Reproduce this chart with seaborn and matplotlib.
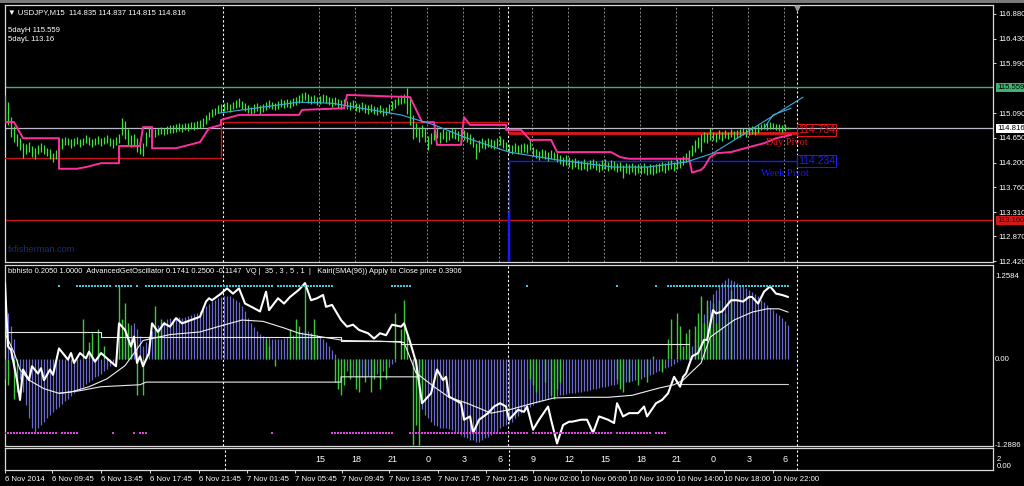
import numpy as np
import pandas as pd
import seaborn as sns
import matplotlib
matplotlib.use("Agg")
import matplotlib.pyplot as plt
import matplotlib.transforms as mtrans
from matplotlib.patches import Rectangle

sns.set_style("dark", {"axes.facecolor": "black", "figure.facecolor": "black"})
plt.rcParams["font.family"] = ["Liberation Sans", "DejaVu Sans"]

# ---------------- price bars (M15), one value per bar ----------------
high = [115.42, 115.30, 115.02, 114.86, 114.72, 114.64, 114.55, 114.53, 114.58, 114.50,
        114.46, 114.52, 114.56, 114.52, 114.47, 114.44, 114.38, 114.43, 114.52, 114.64,
        114.67, 114.65, 114.62, 114.64, 114.67, 114.63, 114.65, 114.69, 114.66, 114.63,
        114.65, 114.68, 114.64, 114.67, 114.70, 114.65, 114.62, 114.66, 114.72, 115.00,
        114.95, 114.80, 114.70, 114.72, 114.64, 114.58, 114.55, 114.75, 114.84, 114.86,
        114.81, 114.83, 114.85, 114.83, 114.86, 114.88, 114.87, 114.89, 114.91, 114.89,
        114.92, 114.91, 114.94, 114.93, 114.95, 114.97, 115.00, 115.06, 115.12, 115.16,
        115.19, 115.23, 115.25, 115.28, 115.30, 115.26, 115.30, 115.33, 115.36, 115.31,
        115.28, 115.24, 115.21, 115.25, 115.27, 115.23, 115.26, 115.29, 115.32, 115.30,
        115.28, 115.31, 115.34, 115.32, 115.35, 115.33, 115.36, 115.38, 115.42, 115.45,
        115.48, 115.43, 115.40, 115.42, 115.38, 115.40, 115.43, 115.41, 115.39, 115.36,
        115.38, 115.34, 115.32, 115.35, 115.31, 115.29, 115.32, 115.28, 115.26, 115.29,
        115.25, 115.23, 115.26, 115.22, 115.20, 115.23, 115.19, 115.21, 115.26, 115.31,
        115.35, 115.38, 115.41, 115.43, 115.55, 115.38, 115.05, 114.92, 114.85, 114.88,
        114.82, 114.68, 114.74, 114.80, 114.84, 114.76, 114.81, 114.77, 114.79, 114.83,
        114.80, 114.77, 114.81, 114.78, 114.75, 114.72, 114.66, 114.56, 114.60, 114.64,
        114.60, 114.64, 114.62, 114.60, 114.65, 114.68, 114.63, 114.58, 114.54, 114.52,
        114.55, 114.51, 114.53, 114.56, 114.54, 114.62, 114.48, 114.44, 114.41, 114.44,
        114.42, 114.39, 114.42, 114.40, 114.38, 114.34, 114.31, 114.33, 114.30, 114.26,
        114.29, 114.25, 114.23, 114.26, 114.22, 114.25, 114.27, 114.23, 114.20, 114.24,
        114.26, 114.22, 114.25, 114.23, 114.20, 114.22, 114.16, 114.19, 114.17, 114.20,
        114.15, 114.18, 114.16, 114.19, 114.14, 114.17, 114.15, 114.18, 114.20, 114.22,
        114.19, 114.23, 114.25, 114.22, 114.26, 114.28, 114.32, 114.38, 114.43, 114.52,
        114.60, 114.66, 114.72, 114.75, 114.73, 114.82, 114.76, 114.74, 114.78, 114.75,
        114.78, 114.76, 114.80, 114.77, 114.79, 114.81, 114.83, 114.81, 114.84, 114.86,
        114.84, 114.87, 114.90, 114.92, 114.91, 114.93, 114.92, 114.90, 114.89, 114.88,
        114.89, 114.84]
low = [114.90, 114.88, 114.66, 114.58, 114.50, 114.42, 114.28, 114.36, 114.40, 114.30,
       114.27, 114.35, 114.40, 114.36, 114.32, 114.27, 114.22, 114.26, 114.33, 114.45,
       114.52, 114.51, 114.47, 114.50, 114.53, 114.49, 114.51, 114.55, 114.52, 114.48,
       114.51, 114.54, 114.50, 114.53, 114.56, 114.50, 114.47, 114.51, 114.55, 114.70,
       114.62, 114.52, 114.48, 114.52, 114.40, 114.36, 114.32, 114.50, 114.66, 114.71,
       114.67, 114.69, 114.71, 114.69, 114.72, 114.74, 114.73, 114.75, 114.77, 114.75,
       114.78, 114.77, 114.80, 114.79, 114.81, 114.83, 114.85, 114.90, 114.97, 115.02,
       115.05, 115.09, 115.11, 115.13, 115.15, 115.11, 115.16, 115.19, 115.21, 115.16,
       115.13, 115.10, 115.06, 115.10, 115.13, 115.08, 115.12, 115.15, 115.18, 115.16,
       115.14, 115.17, 115.20, 115.18, 115.21, 115.19, 115.22, 115.24, 115.27, 115.30,
       115.32, 115.28, 115.25, 115.28, 115.23, 115.26, 115.29, 115.27, 115.24, 115.21,
       115.24, 115.19, 115.17, 115.21, 115.16, 115.14, 115.18, 115.13, 115.11, 115.15,
       115.10, 115.08, 115.12, 115.07, 115.05, 115.09, 115.04, 115.06, 115.10, 115.15,
       115.19, 115.23, 115.25, 115.27, 115.08, 114.88, 114.62, 114.66, 114.58, 114.66,
       114.58, 114.43, 114.54, 114.60, 114.65, 114.56, 114.62, 114.58, 114.60, 114.64,
       114.62, 114.59, 114.63, 114.60, 114.57, 114.54, 114.48, 114.27, 114.40, 114.46,
       114.44, 114.48, 114.46, 114.44, 114.49, 114.52, 114.47, 114.42, 114.38, 114.36,
       114.39, 114.35, 114.37, 114.40, 114.38, 114.42, 114.32, 114.28, 114.25, 114.28,
       114.26, 114.23, 114.26, 114.24, 114.22, 114.17, 114.14, 114.16, 114.13, 114.09,
       114.12, 114.08, 114.06, 114.09, 114.05, 114.08, 114.10, 114.06, 114.03, 114.07,
       114.09, 114.05, 114.08, 114.06, 114.03, 114.05, 113.92, 114.02, 114.00, 114.03,
       113.98, 114.01, 113.99, 114.02, 113.97, 114.00, 113.98, 114.01, 114.03, 114.05,
       114.02, 114.06, 114.08, 114.05, 114.09, 114.11, 114.15, 114.21, 114.25, 114.32,
       114.40, 114.46, 114.40, 114.57, 114.55, 114.60, 114.60, 114.58, 114.62, 114.59,
       114.64, 114.62, 114.66, 114.63, 114.65, 114.67, 114.69, 114.67, 114.70, 114.72,
       114.70, 114.73, 114.78, 114.80, 114.79, 114.81, 114.80, 114.78, 114.77, 114.76,
       114.77, 114.80]

# magenta step line (bar, price)
mag_x = [0, 3, 6, 18, 18, 24, 27, 32, 38, 38, 45, 46, 49, 49, 57, 65, 68, 72, 72, 78,
         98, 99, 113, 114, 135, 139, 143, 144, 152, 153, 155, 167, 167, 172, 175, 182, 184, 202, 205, 208,
         228, 229, 232, 233, 235, 237, 242, 248, 253, 257, 262]
mag_y = [114.93, 114.93, 114.64, 114.64, 114.09, 114.09, 114.12, 114.19, 114.19, 114.50,
         114.50, 114.84, 114.84, 114.46, 114.46, 114.57, 114.82, 114.88, 114.97, 115.06,
         115.06, 115.15, 115.18, 115.42, 115.38, 114.93, 114.93, 114.52, 114.52, 115.02,
         114.88, 114.88, 114.79, 114.79, 114.61, 114.61, 114.39, 114.39, 114.30, 114.27,
         114.27, 114.02, 114.07, 114.12, 114.30, 114.37, 114.39, 114.48, 114.55, 114.64,
         114.70]

# cyan regression line
cyan_x = [71, 98, 109, 132, 143, 154, 168, 184, 203, 214, 227, 236, 266]
cyan_y = [115.09, 115.29, 115.27, 115.06, 114.88, 114.64, 114.39, 114.25, 114.12, 114.12, 114.21, 114.37, 115.38]
cyan2_x = [253, 256, 262]
cyan2_y = [114.82, 115.06, 115.18]

# daily pivots (bar, price) and weekly pivot
pivot_x = [0, 72, 72, 168]
pivot_y = [114.29, 114.29, 114.93, 114.93]
day_pivot = 114.734
week_pivot = 114.234
pivot_start = 168
pivot_end = 264
five_day_high = 115.559
five_day_low = 113.16
last_price = 114.816

# ---------------- oscillator window ----------------
blue_hist = [0.8, 0.7, 0.5, 0.3, 0.0, -0.3, -0.5, -0.7, -0.9, -1.05,
             -1.1, -1.05, -1.0, -0.95, -0.9, -0.85, -0.8, -0.75, -0.72, -0.68,
             -0.64, -0.6, -0.56, -0.52, -0.48, -0.45, -0.42, -0.38, -0.35, -0.32,
             -0.28, -0.25, -0.22, -0.18, -0.15, -0.1, -0.06, -0.03, 0.05, 0.15,
             0.3, 0.45, 0.52, 0.55, 0.45, 0.35, 0.2, 0.25, 0.35, 0.42,
             0.5, 0.52, 0.55, 0.58, 0.6, 0.62, 0.6, 0.62, 0.64, 0.62,
             0.63, 0.65, 0.66, 0.68, 0.7, 0.72, 0.76, 0.8, 0.84, 0.88,
             0.9, 0.92, 0.94, 0.95, 0.96, 0.95, 0.93, 0.9, 0.86, 0.8,
             0.72, 0.62, 0.55, 0.48, 0.42, 0.38, 0.35, 0.33, 0.32, 0.3,
             0.3, 0.3, 0.31, 0.32, 0.33, 0.34, 0.36, 0.38, 0.4, 0.41,
             0.42, 0.42, 0.4, 0.38, 0.36, 0.33, 0.3, 0.25, 0.2, 0.14,
             0.08, 0.02, -0.05, -0.12, -0.18, -0.22, -0.25, -0.27, -0.28, -0.28,
             -0.27, -0.25, -0.24, -0.23, -0.22, -0.2, -0.18, -0.15, -0.12, -0.08,
             -0.04, 0.0, 0.02, 0.0, 0.02, -0.02, -0.15, -0.4, -0.6, -0.75,
             -0.85, -0.9, -0.95, -1.0, -1.02, -1.05, -1.05, -1.05, -1.06, -1.08,
             -1.1, -1.12, -1.15, -1.18, -1.2, -1.22, -1.22, -1.25, -1.25, -1.22,
             -1.2, -1.18, -1.15, -1.12, -1.1, -1.05, -1.02, -1.0, -0.98, -0.95,
             -0.9, -0.86, -0.82, -0.78, -0.75, -0.72, -0.7, -0.67, -0.65, -0.63,
             -0.61, -0.6, -0.58, -0.57, -0.56, -0.55, -0.54, -0.53, -0.52, -0.52,
             -0.51, -0.5, -0.5, -0.49, -0.48, -0.47, -0.46, -0.45, -0.44, -0.43,
             -0.42, -0.41, -0.4, -0.39, -0.38, -0.37, -0.36, -0.35, -0.34, -0.33,
             -0.32, -0.31, -0.3, -0.28, -0.26, -0.24, -0.22, -0.2, -0.18, -0.16,
             -0.14, -0.12, -0.1, -0.08, -0.05, -0.02, 0.02, 0.06, 0.12, 0.2,
             0.3, 0.42, 0.55, 0.68, 0.8, 0.9, 0.98, 1.05, 1.1, 1.15,
             1.2, 1.22, 1.2, 1.18, 1.15, 1.12, 1.1, 1.08, 1.05, 1.02,
             0.98, 0.95, 0.9, 0.86, 0.82, 0.78, 0.74, 0.7, 0.66, 0.62,
             0.58, 0.52]

green_idx = [0, 1, 3, 4, 26, 28, 29, 31, 33, 38, 39, 40, 41, 42, 44, 46, 50, 51, 52,
             87, 88, 90, 95, 97, 98, 100, 102, 103, 104,
             110, 111, 112, 113, 115, 117, 118, 120, 122, 123, 125, 127,
             130, 132, 133, 134, 136, 137, 138, 139,
             175, 176, 177, 180, 182, 183, 184, 185,
             204, 205, 206, 208, 211, 214, 216, 219,
             221, 222, 224, 225, 226, 227, 228,
             230, 231, 232, 233, 234, 235, 236, 237, 238, 240, 242]
green_val = [-0.3, -0.4, -0.6, -0.5, 0.6, 0.25, 0.4, 0.45, 0.2, 1.1, 0.6, 0.85, 0.55, 0.3, -0.55, -0.55, 0.8, 0.45, 0.6,
             0.3, 0.2, -0.1, 0.45, 0.6, 0.5, 1.1, 0.4, 0.6, 0.3,
             -0.35, -0.45, -0.55, -0.4, -0.3, -0.45, -0.5, -0.35, -0.5, -0.3, -0.45, -0.3,
             0.7, 0.45, 0.9, 0.35, -1.3, -1.0, -1.3, -0.6,
             -0.3, -0.4, -0.5, -0.35, -0.55, -0.6, -0.45, -0.35,
             -0.3, -0.45, -0.5, -0.35, -0.4, -0.35, 0.05, -0.2,
             0.3, 0.6, 0.7, 0.5, 0.2, 0.4, 0.45,
             0.5, 0.7, 0.95, 0.55, 0.9, 0.6, 0.85, 0.55, 0.9, 0.7, 1.05]

osc_x = [0, 1, 2, 4, 5, 6, 8, 9, 11, 12, 13, 15, 16, 18, 21, 22, 23, 25, 27, 28,
         30, 32, 34, 37, 38, 40, 42, 43, 44, 45, 46, 48, 49, 51, 53, 55, 57, 59, 62, 65,
         67, 68, 69, 72, 74, 76, 78, 80, 83, 85, 87, 88, 91, 93, 95, 98, 100, 102, 104, 106,
         107, 109, 112, 114, 116, 118, 121, 123, 125, 127, 129, 132, 133, 135, 137, 139, 142, 144, 146, 147,
         148, 150, 152, 153, 155, 156, 158, 161, 163, 165, 167, 168, 171, 173, 174, 176, 178, 181, 182, 184,
         186, 188, 189, 192, 194, 196, 198, 201, 203, 204, 206, 208, 211, 213, 214, 217, 219, 221, 223, 225,
         226, 227, 229, 231, 233, 234, 236, 237, 239, 242, 244, 246, 248, 249, 251, 253, 255, 257, 259, 261]
osc_y = [1.15, 0.19, 0.14, -0.32, -0.62, -0.16, -0.32, -0.11, -0.22, -0.14,
         -0.32, -0.16, -0.24, 0.16, -0.01, 0.09, -0.06, 0.09, 0.01, 0.11,
         -0.04, 0.09, 0.01, -0.11, 0.54, 0.44, 0.19, 0.34, -0.06, 0.04,
         -0.11, 0.09, 0.54, 0.41, 0.54, 0.49, 0.62, 0.54, 0.59, 0.64,
         0.87, 0.92, 0.89, 0.99, 1.07, 0.99, 1.07, 0.84, 0.77, 0.72,
         1.02, 0.74, 0.92, 0.84, 0.94, 1.05, 1.15, 0.89, 0.92, 0.97,
         0.79, 0.82, 0.59, 0.49, 0.52, 0.44, 0.39, 0.31, 0.39, 0.36,
         0.52, 0.49, 0.54, 0.26, -0.05, -0.67, -0.52, -0.16, -0.32, -0.27,
         -0.57, -0.62, -0.67, -0.92, -0.87, -1.12, -0.92, -0.82, -0.72, -0.67,
         -0.72, -0.92, -0.77, -0.8, -0.72, -1.07, -0.92, -0.72, -0.92, -1.28,
         -1.0, -0.95, -0.95, -0.92, -0.92, -1.12, -0.87, -0.92, -0.97, -0.67,
         -0.87, -0.82, -0.82, -0.72, -0.87, -0.67, -0.62, -0.52, -0.27, -0.42,
         -0.27, -0.22, 0.04, 0.09, 0.29, 0.29, 0.74, 0.69, 0.72, 0.89,
         0.89, 0.87, 0.94, 0.94, 0.84, 1.02, 1.1, 0.99, 0.97, 0.94]

sig_x = [0, 3, 5, 8, 13, 18, 22, 28, 34, 40, 44, 46, 55, 65, 71, 79, 86, 93, 98, 109,
         113, 125, 133, 137, 143, 148, 154, 162, 168, 176, 183, 192, 201, 209, 218, 223, 226, 232, 235, 243,
         249, 254, 258, 261]
sig_y = [0.39, 0.1, -0.16, -0.32, -0.45, -0.52, -0.5, -0.42, -0.3, -0.1,
         0.15, 0.28, 0.37, 0.41, 0.49, 0.59, 0.57, 0.47, 0.39, 0.31,
         0.28, 0.27, 0.25, -0.21, -0.42, -0.58, -0.67, -0.82, -0.77, -0.67,
         -0.59, -0.58, -0.58, -0.55, -0.44, -0.39, -0.32, -0.06, 0.33, 0.59,
         0.71, 0.76, 0.76, 0.71]

upper_x = [0, 32, 32, 112, 112, 132, 132, 228]
upper_y = [0.41, 0.41, 0.34, 0.34, 0.27, 0.27, 0.23, 0.23]
lower_x = [18, 25, 32, 45, 47, 112, 112, 138]
lower_y = [-0.52, -0.48, -0.42, -0.39, -0.35, -0.35, -0.27, -0.27]
lower2_x = [225, 261]
lower2_y = [-0.38, -0.38]

cyan_runs = [(18, 18), (24, 35), (37, 42), (44, 44), (47, 89), (91, 109), (129, 135),
             (174, 174), (204, 204), (217, 217), (221, 261)]
pink_runs = [(0, 17), (19, 24), (36, 36), (43, 43), (45, 47), (89, 89), (109, 129),
             (135, 174), (176, 202), (204, 215), (217, 220)]

# ---------------- time axis ----------------
hour_pos = [104.7, 116.7, 128.7, 140.7, 152.7, 164.7, 175.7, 187.7, 199.7, 211.7, 223.7, 235.7, 247.7, 259.7]
hour_labels = ["15", "18", "21", "0", "3", "6", "9", "12", "15", "18", "21", "0", "3", "6"]
day_pos = [72.7, 167.7, 264.0]
time_pos = [-0.7, 15, 31.3, 47.7, 64, 80, 96, 111.7, 127.7, 144, 160, 175.7, 191.7, 207.7, 223.7, 239.3, 255.7]
time_labels = ["6 Nov 2014", "6 Nov 09:45", "6 Nov 13:45", "6 Nov 17:45", "6 Nov 21:45",
               "7 Nov 01:45", "7 Nov 05:45", "7 Nov 09:45", "7 Nov 13:45", "7 Nov 17:45",
               "7 Nov 21:45", "10 Nov 02:00", "10 Nov 06:00", "10 Nov 10:00", "10 Nov 14:00",
               "10 Nov 18:00", "10 Nov 22:00"]
price_ticks = [116.880, 116.430, 115.990, 115.090, 114.650, 114.200, 113.760, 113.310, 112.870, 112.420]
osc_ticks = [1.2584, 0.0, -1.2886]

# ---------------- layout ----------------
W, H = 1024, 486
fig = plt.figure(figsize=(W / 100, H / 100), dpi=100)
fig.patch.set_facecolor("black")
# grey window frame strip at the very top
fig.patches.append(Rectangle((0, 1 - 3 / H), 1, 3 / H, transform=fig.transFigure,
                             fc="#7a7a7a", ec="none", zorder=0))


def box(x0, y0, x1, y1):
    return [x0 / W, 1 - y1 / H, (x1 - x0) / W, (y1 - y0) / H]


ax = fig.add_axes(box(5, 5, 993, 262))
osc = fig.add_axes(box(5, 265, 993, 446))
hrs = fig.add_axes(box(5, 448, 993, 470))
XMAX = 329.3
FS = 5.6

for a in (ax, osc, hrs):
    a.set_facecolor("black")
    a.set_xlim(0, XMAX)
    a.grid(False)
    for s in a.spines.values():
        s.set_color("#d8d8d8")
        s.set_linewidth(0.9)
    a.tick_params(axis="x", bottom=False, labelbottom=False)
    a.tick_params(axis="y", left=False, labelleft=False, right=True, labelright=True,
                  colors="white", labelsize=FS, length=2, width=0.6, pad=1.5)
    for d in day_pos:
        a.axvline(d, color="white", lw=0.8, ls=(0, (2, 2)), zorder=1)

# ---- main price window ----
ax.set_ylim(112.41, 117.04)
ax.set_yticks(price_ticks)
ax.set_yticklabels([f"{t:.3f}" for t in price_ticks])
for h in hour_pos:
    ax.axvline(h, color="#8c8c8c", lw=0.7, ls=(0, (2, 2)), zorder=1)

ax.axhline(five_day_high, color="#3cb371", lw=1.0, zorder=2)
ax.axhline(five_day_low, color="#c81414", lw=1.0, zorder=2)
ax.axhline(last_price, color="#b8b8c8", lw=0.9, zorder=2)
ax.plot(pivot_x, pivot_y, color="#c81414", lw=1.0, zorder=3)
ax.plot([pivot_start, pivot_end], [day_pivot, day_pivot], color="#e01818", lw=2.0, zorder=3)
ax.plot([pivot_start, pivot_start, pivot_end], [112.41, week_pivot, week_pivot], color="#1a1aff", lw=1.0, zorder=3)
ax.plot([pivot_start, pivot_start], [112.41, 113.3], color="#1a1aff", lw=1.6, zorder=3)

bars = pd.DataFrame({"bar": np.arange(len(high)), "high": high, "low": low})
ax.vlines(bars["bar"], bars["low"], bars["high"], color="#3ee23e", lw=0.9, zorder=4)

mag = pd.DataFrame({"bar": mag_x, "price": mag_y})
sns.lineplot(data=mag, x="bar", y="price", ax=ax, color="#ff2ea0", lw=1.4,
             estimator=None, sort=False, legend=False, zorder=5)
sns.lineplot(x=cyan_x, y=cyan_y, ax=ax, color="#3ab0e0", lw=0.8,
             estimator=None, sort=False, legend=False, zorder=5)
sns.lineplot(x=cyan2_x, y=cyan2_y, ax=ax, color="#3ab0e0", lw=0.8,
             estimator=None, sort=False, legend=False, zorder=5)
ax.set_xlabel("")
ax.set_ylabel("")

yt = mtrans.blended_transform_factory(ax.transAxes, ax.transData)
for val, fc, tc in [(five_day_high, "#3cb371", "black"), (last_price, "white", "black"),
                    (five_day_low, "#d01818", "#400000")]:
    ax.text(1.004, val, f"{val:.3f}", transform=yt, fontsize=FS, color=tc, va="center", ha="left",
            bbox=dict(fc=fc, ec="none", pad=0.8), zorder=10, clip_on=False)

ax.text(pivot_end + 0.4, 114.79, f"{day_pivot:.3f}", color="#e01818", fontsize=7.5, va="center",
        ha="left", bbox=dict(fc="none", ec="#e01818", lw=0.8, pad=0.8), zorder=6)
ax.text(pivot_end + 0.4, 114.23, f"{week_pivot:.3f}", color="#1a1aff", fontsize=7.5, va="center",
        ha="left", bbox=dict(fc="none", ec="#1a1aff", lw=0.8, pad=0.8), zorder=6)
ax.text(253.5, 114.56, "Day Pivot", color="#e01818", fontsize=7.5, family="Liberation Serif",
        va="center", ha="left", zorder=6)
ax.text(252, 114.0, "Week Pivot", color="#1a1aff", fontsize=7.5, family="Liberation Serif",
        va="center", ha="left", zorder=6)

ax.text(0.003, 0.985, "\u25bc USDJPY,M15  114.835 114.837 114.815 114.816", transform=ax.transAxes,
        color="white", fontsize=FS, va="top", ha="left", zorder=8)
ax.text(0.003, 0.915, "5dayH 115.559", transform=ax.transAxes, color="white", fontsize=FS, va="top", zorder=8)
ax.text(0.003, 0.88, "5dayL 113.16", transform=ax.transAxes, color="white", fontsize=FS, va="top", zorder=8)
ax.text(0.003, 0.03, "fxfisherman.com", transform=ax.transAxes, color="#1c2c6c", fontsize=FS + 1,
        va="bottom", zorder=8)
ax.plot([264], [116.99], marker="v", color="#9a9a9a", ms=3.5, zorder=8, clip_on=False)

# ---- oscillator window ----
osc.set_ylim(-1.318, 1.424)
osc.set_yticks(osc_ticks)
osc.set_yticklabels(["1.2584", "0.00", "-1.2886"])
osc.tick_params(axis="y", length=0)

osc.vlines(np.arange(len(blue_hist)), 0, blue_hist, color="#6a6ad2", lw=0.9, zorder=2)
osc.vlines(green_idx, 0, green_val, color="#3ec83e", lw=1.0, zorder=3)
osc.plot(upper_x, upper_y, color="#e8e8e8", lw=0.8, zorder=4)
osc.plot(lower_x, lower_y, color="#e8e8e8", lw=0.8, zorder=4)
osc.plot(lower2_x, lower2_y, color="#d0d0d0", lw=0.8, zorder=4)
sns.lineplot(x=sig_x, y=sig_y, ax=osc, color="#f0f0f0", lw=0.8, estimator=None, sort=False,
             legend=False, zorder=5)
sns.lineplot(x=osc_x, y=osc_y, ax=osc, color="white", lw=1.5, estimator=None, sort=False,
             legend=False, zorder=6)
osc.set_xlabel("")
osc.set_ylabel("")

cy = [i for a, b in cyan_runs for i in range(a, b + 1)]
pk = [i for a, b in pink_runs for i in range(a, b + 1)]
osc.scatter(cy, [1.1] * len(cy), s=2.2, marker="s", color="#40c8e0", lw=0, zorder=7)
osc.scatter(pk, [-1.12] * len(pk), s=2.2, marker="s", color="#e040e0", lw=0, zorder=7)

osc.text(0.003, 0.985, "bbhisto 0.2050 1.0000  AdvancedGetOscillator 0.1741 0.2500 -0.1147  VQ |  35 , 3 , 5 , 1  |"
         "   Kairi(SMA(96)) Apply to Close price 0.3906", transform=osc.transAxes, color="white",
         fontsize=FS - 0.2, va="top", ha="left", zorder=8)

# ---- hour window + time axis ----
hrs.set_ylim(0, 1)
hrs.set_yticks([])
for p, lab in zip(hour_pos, hour_labels):
    hrs.text(p, 0.5, lab, color="white", fontsize=6.5, ha="center", va="center")
hrs.set_xticks(time_pos)
hrs.set_xticklabels(time_labels)
hrs.tick_params(axis="x", bottom=True, labelbottom=True, colors="white", labelsize=FS,
                length=2.5, width=0.6, pad=2)
for t in hrs.get_xticklabels():
    t.set_ha("left")
fig.text(997 / W, 1 - 459 / H, "2", color="white", fontsize=FS, va="center", ha="left")
fig.text(997 / W, 1 - 466 / H, "0.00", color="white", fontsize=FS, va="center", ha="left")

fig.savefig("out.png", dpi=100, facecolor="black")
